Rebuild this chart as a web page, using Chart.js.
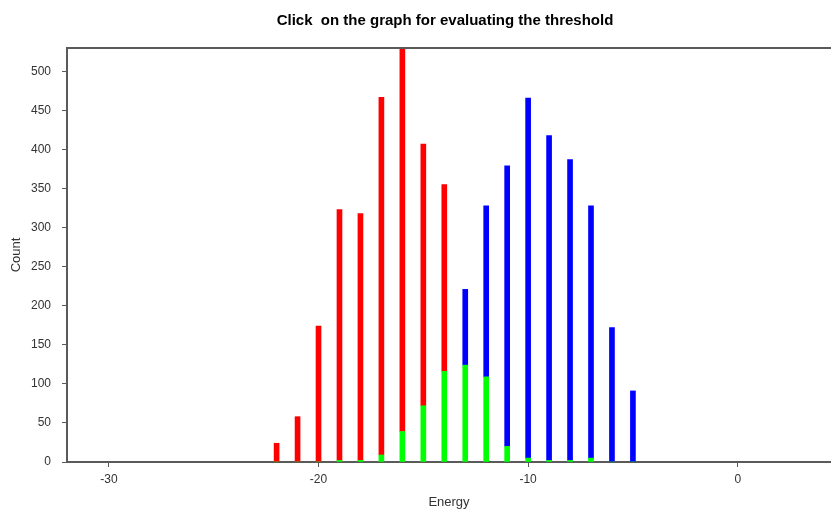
<!DOCTYPE html>
<html>
<head>
<meta charset="utf-8">
<script src="https://cdn.jsdelivr.net/npm/chart.js@4/dist/chart.umd.min.js"></script>
<style>
  html, body { margin: 0; padding: 0; background: #fff; }
  #wrap { width: 831px; height: 512px; position: relative; }
</style>
</head>
<body>
<div id="wrap"><canvas id="c"></canvas></div>
<script>
// Energy bins (x positions of the histogram bars)
const energies = [-22, -21, -20, -19, -18, -17, -16, -15, -14, -13, -12, -11, -10, -9, -8, -7, -6, -5];
// Lower (green) part of each bar
const greenCounts = [0, 0, 0, 2, 2, 9, 39, 72, 116, 124, 109, 20, 5, 2, 2, 5, 0, 0];
// Upper part, red for the low-energy bins
const redCounts = [24, 58, 174, 321, 316, 458, 496, 335, 239, null, null, null, null, null, null, null, null, null];
// Upper part, blue for the high-energy bins
const blueCounts = [null, null, null, null, null, null, null, null, null, 97, 219, 359, 461, 416, 385, 323, 172, 91];
// Axis ticks
const yTicks = [0, 50, 100, 150, 200, 250, 300, 350, 400, 450, 500];
const xTicks = [-30, -20, -10, 0];

const titleText = 'Click  on the graph for evaluating the threshold';

function pts(values) {
  return energies.map((e, i) => ({ x: e, y: values[i] })).filter(p => p.y !== null);
}

const axisColor = '#5a5a5a';
const textColor = '#333';
const tickFont = { family: 'Arial, "Liberation Sans", sans-serif', size: 12 };

const titlePlugin = {
  id: 'topTitleAndFrame',
  afterDraw(chart) {
    const { ctx, chartArea } = chart;
    ctx.save();
    // top frame line
    ctx.strokeStyle = axisColor;
    ctx.lineWidth = 2;
    ctx.beginPath();
    ctx.moveTo(chartArea.left - 1, chartArea.top);
    ctx.lineTo(chartArea.right, chartArea.top);
    ctx.stroke();
    // chart title
    ctx.fillStyle = '#000';
    ctx.font = 'bold 15px "Liberation Sans Narrow", "Liberation Sans", Arial, sans-serif';
    ctx.textAlign = 'center';
    ctx.textBaseline = 'middle';
    ctx.fillText(titleText, 445, 21);
    ctx.restore();
  }
};

new Chart(document.getElementById('c'), {
  type: 'bar',
  data: {
    datasets: [
      { label: 'green', data: pts(greenCounts), backgroundColor: '#00ff00', stack: 's', barThickness: 5 },
      { label: 'red', data: pts(redCounts), backgroundColor: '#ff0000', stack: 's', barThickness: 5 },
      { label: 'blue', data: pts(blueCounts), backgroundColor: '#0000ff', stack: 's', barThickness: 5 }
    ]
  },
  options: {
    responsive: true,
    maintainAspectRatio: false,
    animation: false,
    layout: { padding: { top: 48, left: 0, right: 0, bottom: 0 } },
    plugins: {
      legend: { display: false },
      tooltip: { enabled: false },
      title: { display: false }
    },
    scales: {
      x: {
        type: 'linear',
        min: -32,
        max: 4.45,
        offset: false,
        afterFit(scale) { scale.height = 50; },
        afterBuildTicks(scale) { scale.ticks = xTicks.map(v => ({ value: v })); },
        ticks: { color: textColor, font: tickFont, padding: 5, maxRotation: 0 },
        grid: { display: true, offset: false, drawOnChartArea: false, drawTicks: true, tickLength: 5, color: axisColor, lineWidth: 1 },
        border: { display: true, color: axisColor, width: 2 },
        title: { display: true, text: 'Energy', color: textColor, font: { family: 'Arial, "Liberation Sans", sans-serif', size: 13 }, padding: { top: 0, bottom: 2 } }
      },
      y: {
        type: 'linear',
        min: 0,
        max: 530,
        afterFit(scale) { scale.width = 67; },
        afterBuildTicks(scale) { scale.ticks = yTicks.map(v => ({ value: v })); },
        ticks: { color: textColor, font: tickFont, padding: 11 },
        grid: { display: true, drawOnChartArea: false, drawTicks: true, tickLength: 5, color: axisColor, lineWidth: 1 },
        border: { display: true, color: axisColor, width: 2 },
        title: { display: true, text: 'Count', color: textColor, font: { family: 'Arial, "Liberation Sans", sans-serif', size: 13 }, padding: { top: 9, bottom: 0 } }
      }
    }
  },
  plugins: [titlePlugin]
});
</script>
</body>
</html>
